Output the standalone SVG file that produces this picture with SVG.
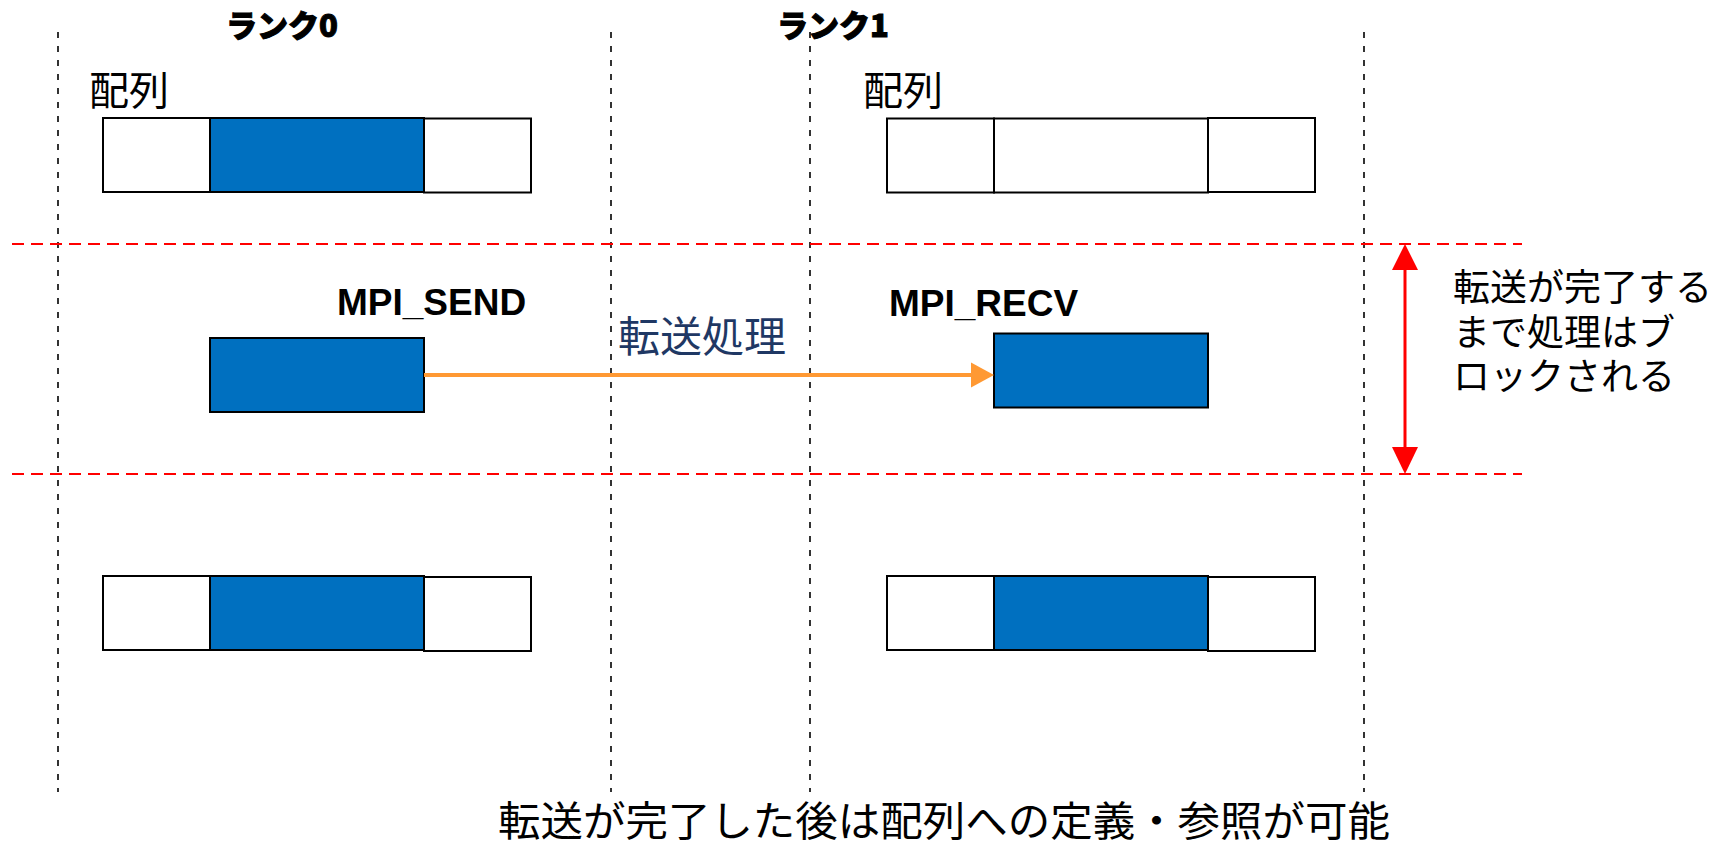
<svg xmlns="http://www.w3.org/2000/svg" width="1732" height="844" viewBox="0 0 1732 844">
<defs>
<style>
.vdash{stroke:#000;stroke-width:1.6;stroke-dasharray:6 8;fill:none}
.rdash{stroke:#FF0000;stroke-width:2;stroke-dasharray:12 7;fill:none}
.cell{fill:#fff;stroke:#000;stroke-width:2}
.blue{fill:#0070C0;stroke:#000;stroke-width:2}
.jp{font-family:"Noto Sans CJK JP","Noto Sans CJK SC",sans-serif;fill:#000}
.rank{font-family:"Noto Sans CJK JP",sans-serif;font-weight:900;font-size:31px;fill:#000;stroke:#000;stroke-width:1}
.mpi{font-family:"Liberation Sans",Arial,sans-serif;font-weight:bold;font-size:37px;fill:#000}
</style>
</defs>
<rect width="1732" height="844" fill="#fff"/>
<g id="guides">
<line class="vdash" x1="58" y1="32" x2="58" y2="792"/>
<line class="vdash" x1="611" y1="32" x2="611" y2="792"/>
<line class="vdash" x1="810" y1="32" x2="810" y2="792"/>
<line class="vdash" x1="1364" y1="32" x2="1364" y2="792"/>
<line class="rdash" x1="12" y1="244" x2="1522" y2="244"/>
<line class="rdash" x1="12" y1="474" x2="1522" y2="474"/>
</g>
<g id="rank0-label"><text class="rank" x="282" y="37" text-anchor="middle">ランク0</text></g>
<g id="rank1-label"><text class="rank" x="833" y="37" text-anchor="middle">ランク1</text></g>
<g id="array0-label"><text class="jp" x="89" y="105" font-size="40">配列</text></g>
<g id="array1-label"><text class="jp" x="863" y="105" font-size="40">配列</text></g>
<g id="array0-top">
<rect class="cell" x="103" y="118" width="107" height="74"/>
<rect class="blue" x="210" y="118" width="214" height="74"/>
<rect class="cell" x="424" y="118.5" width="107" height="74"/>
</g>
<g id="array1-top">
<rect class="cell" x="887" y="118.5" width="107" height="74"/>
<rect class="cell" x="994" y="118.5" width="214" height="74"/>
<rect class="cell" x="1208" y="118" width="107" height="74"/>
</g>
<g id="send">
<text class="mpi" x="337" y="315">MPI_SEND</text>
<rect class="blue" x="210" y="338" width="214" height="74"/>
</g>
<g id="recv">
<text class="mpi" x="889" y="316">MPI_RECV</text>
<rect class="blue" x="994" y="333.5" width="214" height="74"/>
</g>
<g id="array0-bottom">
<rect class="cell" x="103" y="576" width="107" height="74"/>
<rect class="blue" x="210" y="576" width="214" height="74"/>
<rect class="cell" x="424" y="577" width="107" height="74"/>
</g>
<g id="array1-bottom">
<rect class="cell" x="887" y="576" width="107" height="74"/>
<rect class="blue" x="994" y="576" width="214" height="74"/>
<rect class="cell" x="1208" y="577" width="107" height="74"/>
</g>
<g id="connectors">
<line x1="424" y1="375" x2="973" y2="375" stroke="#FF9933" stroke-width="4"/>
<polygon points="994,375 971,362.5 971,387.5" fill="#FF9933"/>
<line x1="1405" y1="262" x2="1405" y2="456" stroke="#FF0000" stroke-width="3"/>
<polygon points="1405,244 1392,270 1418,270" fill="#FF0000"/>
<polygon points="1405,474 1392,447 1418,447" fill="#FF0000"/>
</g>
<g id="transfer-label"><text class="jp" x="618" y="352" font-size="42" style="fill:#1F3864">転送処理</text></g>
<g id="block-note">
<text class="jp" x="1453" y="301" font-size="37" textLength="259" lengthAdjust="spacingAndGlyphs">転送が完了する</text>
<text class="jp" x="1453" y="346" font-size="37">まで処理はブ</text>
<text class="jp" x="1453" y="390" font-size="37">ロックされる</text>
</g>
<g id="footer"><text class="jp" x="498" y="836" font-size="40.5" textLength="892" lengthAdjust="spacingAndGlyphs">転送が完了した後は配列への定義・参照が可能</text></g>
</svg>
